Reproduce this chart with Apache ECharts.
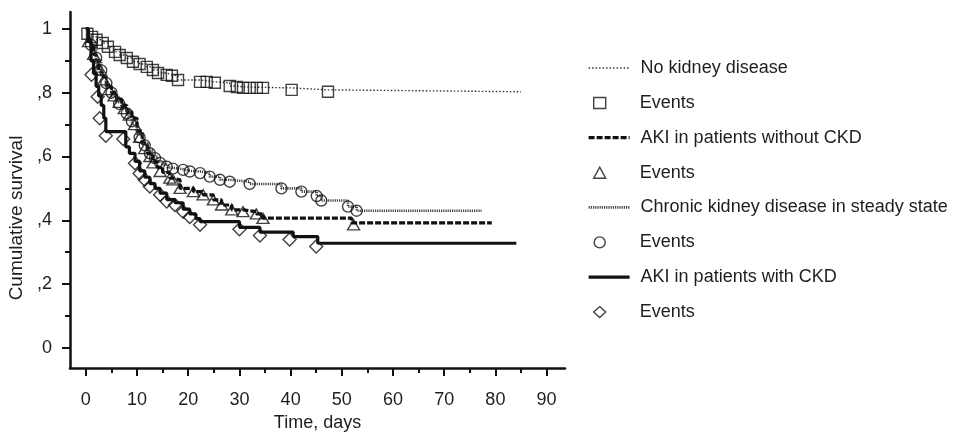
<!DOCTYPE html>
<html>
<head>
<meta charset="utf-8">
<script src="https://cdn.jsdelivr.net/npm/echarts@6/dist/echarts.min.js"></script>
<style>
html,body{margin:0;padding:0;background:#fff;}
#chart{width:970px;height:435px;}
</style>
</head>
<body>
<div id="chart"></div>
<script>
// ---- tick labels ----
var xMajorTicks = [0, 10, 20, 30, 40, 50, 60, 70, 80, 90];
var xMinorTicks = [5, 15, 25, 35, 45, 55, 65, 75, 85];
var yMajorTicks = [0, 0.2, 0.4, 0.6, 0.8, 1];
var yMinorTicks = [0.1, 0.3, 0.5, 0.7, 0.9];

// ---- series names ----
var seriesNames = ['No kidney disease', 'AKI in patients without CKD', 'Chronic kidney disease in steady state', 'AKI in patients with CKD'];

// ---- No kidney disease: survival curve [time, survival] and censor events ----
var noKidneyCurve = [[0,1],[0.5,0.987],[1.2,0.975],[2.1,0.966],[3.3,0.956],[4.3,0.944],[5.7,0.928],[6.6,0.918],[8,0.909],[9.2,0.897],[10.5,0.89],[11.9,0.881],[13.1,0.871],[14.1,0.862],[15.8,0.856],[16.8,0.853],[18,0.84],[22.3,0.834],[25.2,0.831],[28.1,0.821],[29.5,0.818],[30.7,0.815],[40.2,0.809],[47.3,0.803],[85,0.803]];
var noKidneyEvents = [[0.3,0.985],[1.2,0.975],[2.1,0.966],[3.3,0.956],[4.3,0.944],[5.7,0.928],[6.6,0.918],[8,0.909],[9.2,0.897],[10.5,0.89],[11.9,0.881],[13.1,0.871],[14.1,0.862],[15.8,0.856],[16.8,0.853],[18,0.84],[22.3,0.834],[23.6,0.834],[25.2,0.831],[28.1,0.821],[29.5,0.818],[30.7,0.815],[32,0.815],[33.4,0.815],[34.6,0.815],[40.2,0.809],[47.3,0.803]];

// ---- AKI without CKD ----
var akiNoCkdCurve = [[0,1],[0.5,0.97],[1,0.95],[1.5,0.92],[2,0.9],[2.5,0.87],[3,0.85],[4,0.82],[5,0.8],[6,0.78],[7,0.76],[8,0.74],[9,0.72],[10,0.68],[11,0.64],[12,0.61],[13,0.585],[14,0.565],[15,0.55],[16.4,0.532],[17,0.527],[18.4,0.5],[21,0.49],[22.9,0.48],[24.9,0.464],[26.5,0.448],[28.5,0.433],[30.7,0.427],[33.3,0.42],[34.6,0.407],[51.9,0.392],[79.3,0.392]];
var akiNoCkdEvents = [[0.5,0.96],[1.5,0.92],[2.5,0.88],[3.5,0.84],[4.5,0.81],[5.5,0.79],[6.5,0.77],[7.5,0.75],[8.5,0.73],[9.5,0.7],[10.5,0.66],[11.5,0.625],[12.5,0.6],[13.1,0.58],[14.5,0.553],[16.4,0.532],[17,0.527],[18.4,0.5],[21,0.49],[22.9,0.48],[24.9,0.464],[26.5,0.448],[28.5,0.433],[30.7,0.427],[33.3,0.42],[34.6,0.406],[52.3,0.386]];

// ---- Chronic kidney disease in steady state ----
var ckdCurve = [[0,1],[0.5,0.97],[1,0.95],[2,0.9],[3,0.86],[4,0.82],[5,0.79],[6,0.77],[7,0.75],[8,0.73],[9,0.7],[10,0.67],[11,0.64],[12,0.62],[13,0.6],[14,0.585],[15,0.575],[16,0.565],[17,0.56],[19,0.555],[20.3,0.553],[22.3,0.548],[24.2,0.537],[26.2,0.527],[28.1,0.521],[32,0.514],[38.2,0.5],[42.1,0.49],[45.1,0.476],[46,0.462],[51.2,0.443],[52.9,0.43],[77.3,0.43]];
var ckdEvents = [[1,0.95],[2,0.91],[3,0.87],[4,0.83],[5,0.8],[6.5,0.765],[8,0.735],[9,0.71],[10.5,0.66],[11.5,0.635],[12.5,0.61],[13.5,0.595],[14.5,0.58],[15.8,0.568],[17,0.562],[19,0.558],[20.3,0.553],[22.3,0.548],[24.2,0.537],[26.2,0.527],[28.1,0.521],[32,0.514],[38.2,0.5],[42.1,0.49],[45.1,0.476],[46,0.462],[51.2,0.443],[52.9,0.43]];

// ---- AKI with CKD ----
var akiCkdCurve = [[0,1],[0.5,0.96],[1,0.9],[1.5,0.86],[2,0.82],[2.5,0.79],[3,0.76],[3.5,0.72],[3.9,0.678],[7.8,0.63],[8.5,0.61],[9.6,0.585],[10.5,0.555],[11.5,0.535],[12.5,0.515],[13.5,0.5],[14.5,0.485],[15.8,0.465],[17.4,0.455],[19,0.435],[20.3,0.42],[21.5,0.405],[22.3,0.396],[30,0.378],[34,0.363],[40.5,0.349],[45.3,0.328],[84.1,0.328]];
var akiCkdEvents = [[1.1,0.856],[2.3,0.787],[2.7,0.72],[3.9,0.665],[7.3,0.655],[9.6,0.579],[10.5,0.547],[11.5,0.527],[12.5,0.506],[14.5,0.48],[15.8,0.459],[17.4,0.448],[19,0.427],[20.3,0.41],[22.3,0.386],[30,0.372],[34,0.352],[39.8,0.34],[45,0.318]];

var FONT = '"Liberation Sans", Arial, sans-serif';
var TXT = '#1e1e1e';
var INK = '#111';

var chart = echarts.init(document.getElementById('chart'), null, {renderer: 'canvas'});

var lineStyles = [
  {color: '#333', width: 1.4, type: [1.5, 2]},
  {color: INK, width: 3.2, type: [6, 2]},
  {color: '#444', width: 2.6, type: [1.2, 1]},
  {color: INK, width: 3.2}
];

function lineSeries(i, data) {
  return {
    name: seriesNames[i], type: 'line', step: 'end', data: data,
    symbol: 'none', showSymbol: false, silent: true,
    itemStyle: {color: lineStyles[i].color},
    lineStyle: lineStyles[i], z: 2
  };
}
function eventSeries(name, data, symbol, size) {
  return {
    name: name, type: 'scatter', data: data, symbol: symbol, symbolSize: size, silent: true,
    itemStyle: {color: 'rgba(255,255,255,0)', borderColor: INK, borderWidth: 1.4}, z: 3
  };
}

var eventNames = ['Events 1', 'Events 2', 'Events 3', 'Events 4'];
var symbols = ['rect', 'triangle', 'circle', 'diamond'];

var option = {
  backgroundColor: '#fff',
  animation: false,
  textStyle: {fontFamily: FONT},
  grid: {left: 70, right: 405, top: 12, bottom: 67, containLabel: false, outerBoundsMode: 'none'},
  legend: [
    {
      orient: 'vertical', left: 587, top: 58, padding: 0,
      itemWidth: 41, itemHeight: 14, itemGap: 49.7,
      selectedMode: false,
      textStyle: {fontFamily: FONT, fontSize: 18, color: TXT, lineHeight: 20, padding: [0, 0, 0, 6]},
      data: seriesNames.map(function (n, i) {
        return {
          name: n, itemStyle: {opacity: 0},
          lineStyle: {color: lineStyles[i].color, width: lineStyles[i].width, type: lineStyles[i].type || 'solid'}
        };
      })
    },
    {
      orient: 'vertical', left: 593, top: 93, padding: 0,
      itemWidth: 12, itemHeight: 11, itemGap: 49.7,
      selectedMode: false,
      formatter: function () { return 'Events'; },
      textStyle: {fontFamily: FONT, fontSize: 18, color: TXT, lineHeight: 20, padding: [0, 0, 0, 29]},
      data: eventNames.map(function (n, i) {
        return {name: n, icon: symbols[i], itemStyle: {color: 'rgba(255,255,255,0)', borderColor: INK, borderWidth: 1.4}};
      })
    }
  ],
  xAxis: [
    {
      type: 'value', min: -3.1, max: 93.6,
      name: 'Time, days', nameLocation: 'middle', nameGap: 46,
      nameTextStyle: {fontFamily: FONT, fontSize: 18, color: TXT},
      axisLine: {show: true, onZero: false, lineStyle: {color: INK, width: 2.5}},
      axisTick: {show: true, customValues: xMajorTicks, length: 8, lineStyle: {color: INK, width: 2}},
      axisLabel: {customValues: xMajorTicks, margin: 23, fontFamily: FONT, fontSize: 18, color: TXT},
      splitLine: {show: false}
    },
    {
      type: 'value', min: -3.1, max: 93.6, position: 'bottom',
      axisLine: {show: false, onZero: false},
      axisTick: {show: true, customValues: xMinorTicks, length: 5, lineStyle: {color: INK, width: 2}},
      axisLabel: {show: false},
      splitLine: {show: false}
    }
  ],
  yAxis: [
    {
      type: 'value', min: -0.063, max: 1.053,
      name: 'Cumulative survival', nameLocation: 'middle', nameGap: 33, nameRotate: 90,
      nameTextStyle: {fontFamily: FONT, fontSize: 19, color: TXT, padding: [0, 56, 0, 0]},
      axisLine: {show: true, onZero: false, lineStyle: {color: INK, width: 2.5}},
      axisTick: {show: true, customValues: yMajorTicks, length: 8, lineStyle: {color: INK, width: 2}},
      axisLabel: {
        customValues: yMajorTicks, margin: 18, fontFamily: FONT, fontSize: 18, color: TXT,
        formatter: function (v) {
          if (v === 0) return '0';
          if (v === 1) return '1';
          return ',' + Math.round(v * 10);
        }
      },
      splitLine: {show: false}
    },
    {
      type: 'value', min: -0.063, max: 1.053, position: 'left',
      axisLine: {show: false, onZero: false},
      axisTick: {show: true, customValues: yMinorTicks, length: 5, lineStyle: {color: INK, width: 2}},
      axisLabel: {show: false},
      splitLine: {show: false}
    }
  ],
  series: [
    lineSeries(0, noKidneyCurve),
    lineSeries(1, akiNoCkdCurve),
    lineSeries(2, ckdCurve),
    lineSeries(3, akiCkdCurve),
    eventSeries(eventNames[0], noKidneyEvents, 'rect', 11),
    eventSeries(eventNames[1], akiNoCkdEvents, 'triangle', [12, 10]),
    eventSeries(eventNames[2], ckdEvents, 'circle', 11),
    eventSeries(eventNames[3], akiCkdEvents, 'diamond', 13)
  ]
};
chart.setOption(option);
</script>
</body>
</html>
